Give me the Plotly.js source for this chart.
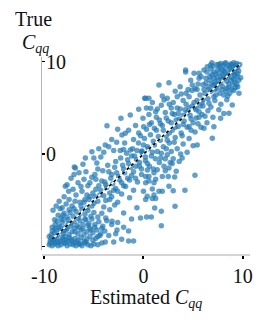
<!DOCTYPE html>
<html>
<head>
<meta charset="utf-8">
<script src="https://cdn.plot.ly/plotly-3.0.1.min.js"></script>
<style>html,body{margin:0;padding:0;background:#fff;}#chart{width:267px;height:323px;}</style>
</head>
<body>
<div id="chart"></div>
<script>
// Estimated C_qq (x) and True C_qq (y)
const estimated = [
-9.5,-9.2,-8.9,-8.6,-8.3,-8.0,-7.7,-7.4,-7.1,-6.8,
-6.5,-6.2,-5.9,-5.6,-5.3,-5.0,-4.6,-4.2,-3.85,-3.0,
-2.2,-1.5,-1.0,-9.4,-9.1,-8.8,-8.4,-8.1,-7.8,-7.5,
-7.2,-6.9,-6.6,-6.3,-6.0,-5.7,-5.4,-5.1,-4.8,-4.4,
-9.3,-9.0,-8.7,-8.4,-8.1,-7.8,-7.5,-7.2,-6.9,-6.6,
-6.3,-6.0,-5.7,-5.4,-5.1,-4.7,-4.3,-3.9,-3.5,-2.8,
-9.2,-8.9,-8.7,-8.96,-8.5,-8.2,-7.9,-7.6,-7.3,-7.0,
-6.7,-6.4,-6.1,-5.8,-5.5,-5.2,-4.9,-4.5,-4.1,-3.7,
-3.2,-2.6,-2.0,-9.12,-8.6,-8.3,-8.0,-7.7,-7.4,-7.1,
-6.8,-6.5,-6.2,-5.9,-5.6,-5.3,-5.0,-4.6,-4.2,-3.8,
-3.17,-2.67,-1.5,-2.0,-0.66,-3.4,-2.9,-1.2,-0.3,0.32,
0.79,1.8,1.8,1.13,3.18,0.22,0.38,1.06,1.23,0.89,
-8.8,-8.5,-8.2,-7.88,-7.7,-7.54,-8.0,-7.8,-7.5,-7.2,
-7.0,-6.87,-6.5,-6.97,-7.1,-6.8,-6.6,-6.4,-6.2,-6.0,
-5.86,-5.0,-4.7,-5.8,-5.6,-5.4,-5.2,-5.0,-4.8,-4.6,
-4.4,-4.2,-4.0,-3.8,-3.6,-3.4,-3.2,-3.0,-2.8,-2.6,
-2.4,-2.2,-2.0,-1.8,-1.6,-1.4,-1.2,-1.0,-0.8,-0.6,
-0.4,-0.2,0.0,0.2,0.4,0.55,0.22,1.23,1.06,0.55,
1.39,1.06,2.57,2.07,3.3,3.14,2.5,1.9,3.9,3.75,
3.0,2.9,2.4,2.2,1.73,2.7,0.89,1.9,1.56,2.57,
3.0,4.18,5.19,0.22,-6.3,-5.9,-7.3,-6.1,-4.9,-4.3,
-6.0,-5.7,-5.5,-5.2,-4.9,-4.6,-4.3,-4.0,-3.7,-3.4,
-3.1,-2.8,-2.5,-2.2,-1.9,-1.6,-1.3,-1.0,-0.7,-0.4,
-0.1,0.2,0.5,0.8,1.1,1.4,1.7,2.0,2.3,2.6,
2.9,3.2,3.5,3.8,4.1,4.4,4.7,5.0,5.3,5.6,
-5.4,-4.8,-4.1,-3.5,-2.9,-2.3,-1.7,-1.1,-0.5,0.1,
0.7,1.3,1.9,2.5,3.1,3.7,4.3,0.4,1.0,1.6,
2.2,2.8,3.4,4.0,4.6,5.2,5.8,4.4,3.6,5.0,
-3.8,-3.2,-2.6,-2.0,-1.4,-0.8,-0.2,0.6,1.2,1.8,
0.12,-0.48,-1.33,-2.27,-3.68,-2.17,-1.83,-0.48,-0.05,0.02,
-3.85,-3.5,-5.2,-3.0,-2.34,-2.0,-1.33,-0.66,-0.15,-2.7,
-1.0,-0.3,0.3,0.8,1.3,0.22,0.55,0.73,1.23,0.55,
1.56,2.57,2.4,2.07,3.4,4.25,4.25,1.8,2.8,1.6,
2.2,3.0,3.8,4.5,4.76,4.92,5.6,5.6,5.1,6.1,
6.43,6.77,7.78,8.29,8.8,9.3,3.5,4.0,4.6,5.2,
6.0,6.3,6.6,6.9,7.2,7.5,7.8,8.1,8.4,8.7,
9.0,9.3,9.6,9.8,9.63,6.2,6.5,6.8,7.1,7.4,
7.7,8.0,8.3,8.6,8.9,9.2,9.5,5.7,5.9,6.1,
7.0,7.3,7.6,7.9,8.2,8.5,8.8,9.1,9.4,9.7,
5.5,5.8,6.4,6.7,7.0,7.3,7.6,7.9,8.2,8.5,
8.8,9.1,9.4,6.0,6.6,7.2,7.8,8.4,8.95,8.62,
7.78,7.1,6.94,5.42,6.1,5.9,6.5,7.0,7.6,8.1,
9.5,9.2,8.9,8.6,8.3,8.0,7.7,7.4,7.1,6.8,
9.6,9.3,9.0,8.7,8.4,8.1,7.8,7.5,7.2,6.9,
2.0,2.4,2.8,3.2,3.6,4.0,4.4,4.8,5.2,5.6,
6.0,5.4,4.9,4.2,3.3,2.6,1.5,1.0,0.4,-0.2,
4.8,5.5,6.2,6.8,3.9,4.6,5.3,6.4,2.3,3.1,
-0.9,-1.5,-2.1,-2.7,-3.3,-3.9,-4.5,-5.1,-5.7,-6.3,
-6.9,-7.5,-8.1,-8.8,-9.3,-9.5,-9.0,-8.5,-7.9,-7.3,
0.3,0.9,1.4,1.9,2.6,3.2,3.7,4.3,4.9,5.4,
0.6,1.1,1.7,2.3,2.9,3.4,4.0,4.6,5.1,5.7,
-0.8,-1.5,-2.6,-3.2,-4.0,-4.5,-1.9,-1.2,0.0,0.9,
-9.4,-9.0,-8.7,-8.2,-7.9,-7.6,-7.0,-6.7,-6.4,-5.8,
-9.2,-8.9,-8.4,-8.0,-7.7,-7.3,-6.9,-6.5,-6.1,-5.6,
-5.3,-4.9,-4.6,-4.2,-5.9,-6.6,-7.6,-8.1,-8.4,-7.0,
8.0,8.6,9.0,9.4,7.4,6.9,7.6,8.2,8.9,9.5,
6.3,6.7,7.1,7.9,8.4,9.1,6.5,7.3,8.6,9.2
];
const trueVals = [
-9.8,-9.9,-9.7,-9.9,-9.8,-9.6,-9.9,-9.7,-9.8,-9.9,
-9.7,-9.9,-9.6,-9.8,-9.9,-9.7,-9.8,-9.6,-9.5,-9.5,
-9.2,-9.4,-9.4,-9.4,-9.3,-9.1,-9.4,-9.2,-9.3,-9.0,
-9.4,-9.1,-9.3,-9.0,-9.4,-9.2,-8.9,-9.3,-9.1,-8.8,
-8.7,-8.5,-8.8,-8.3,-8.6,-8.2,-8.7,-8.4,-8.0,-8.6,
-8.2,-8.7,-8.4,-8.0,-8.5,-8.2,-8.6,-8.3,-8.8,-8.6,
-7.9,-7.6,-7.25,-7.08,-7.8,-7.4,-7.9,-7.5,-7.8,-7.3,
-7.7,-7.2,-7.6,-7.1,-7.5,-7.0,-7.6,-7.3,-7.8,-7.2,
-7.6,-7.4,-7.9,-6.07,-6.6,-6.9,-6.4,-6.8,-6.3,-6.7,
-6.2,-6.6,-6.0,-6.5,-6.1,-6.7,-6.3,-6.8,-6.4,-6.9,
-7.25,-8.2,-8.3,-6.35,-5.8,-6.0,-5.5,-7.0,-6.9,-6.8,
-6.8,-7.73,-6.17,-5.82,-5.63,-4.9,-4.55,-4.4,-4.8,-4.8,
-5.6,-5.1,-5.8,-3.47,-3.3,-4.0,-4.6,-5.4,-4.9,-5.6,
-2.2,-1.49,-2.0,-1.38,-3.8,-4.4,-3.1,-5.2,-4.0,-2.7,
-0.4,-0.4,-0.95,-1.9,-3.4,-4.6,-2.5,-5.3,-3.8,-1.6,
-4.4,-2.9,-5.7,-3.3,-1.2,-4.9,-2.2,-3.9,-0.8,-5.2,
-2.8,-4.3,-1.6,-3.5,-0.6,-4.7,-2.3,-3.9,-1.3,-3.0,
-0.9,-2.2,-4.0,-0.3,-1.7,-2.4,-2.4,-2.7,-3.1,-2.9,
-1.67,-2.0,-1.49,-1.31,-1.85,-2.46,-2.4,-2.4,-0.4,0.02,
-0.5,-1.0,-0.05,-0.5,-0.4,-0.9,-3.76,-4.0,-4.0,-3.47,
-3.95,-3.9,-2.28,-3.1,-3.5,-4.9,-2.6,-1.1,-2.2,-0.3,
-5.2,-5.8,-4.9,-5.6,-4.6,-5.1,-3.9,-4.5,-3.6,-4.2,
-3.2,-3.7,-2.4,-3.1,-2.0,-2.6,-1.4,-1.9,-0.6,-1.3,
0.1,-0.7,0.6,-0.2,1.0,0.3,1.5,0.8,2.0,1.2,
2.6,1.8,3.0,2.3,3.6,2.9,4.2,3.4,4.8,4.0,
-3.1,-2.7,-1.8,-1.9,-1.4,-0.4,0.1,0.6,1.2,1.7,
2.1,2.6,3.1,3.6,4.3,4.9,5.4,-1.0,-1.6,-0.9,
-1.8,0.3,0.6,1.1,1.7,2.4,2.9,0.2,-0.8,0.9,
-5.0,-4.6,-4.0,-3.4,-2.8,-2.6,-1.6,-1.3,-0.5,0.1,
6.04,4.85,4.24,3.88,3.08,2.08,2.26,2.3,3.88,2.97,
1.0,0.8,0.27,0.4,0.4,0.5,0.45,0.4,0.35,1.3,
1.6,2.0,2.7,3.4,4.0,6.04,6.04,4.96,4.6,4.3,
7.48,7.73,6.04,5.86,6.2,9.1,8.9,5.3,5.0,3.7,
4.5,5.6,6.5,7.0,8.0,7.48,8.2,8.75,8.75,9.1,
9.46,9.64,9.8,9.9,9.75,9.6,4.4,5.8,6.2,7.1,
7.5,8.2,7.0,8.6,7.8,9.2,8.4,9.0,7.9,9.4,
8.8,9.3,9.0,8.27,6.58,6.6,6.0,6.8,6.2,7.1,
6.6,7.3,6.8,7.6,7.0,7.8,7.3,6.4,5.6,7.0,
9.5,8.7,9.7,9.1,9.8,8.5,9.1,9.9,8.4,9.7,
7.6,8.4,8.9,8.0,7.4,6.4,8.0,7.0,8.2,6.3,
8.0,6.9,7.6,5.2,5.5,5.8,5.4,5.9,5.32,4.42,
3.88,2.97,1.72,0.99,2.8,4.3,4.7,4.0,4.8,4.4,
9.4,8.6,9.7,8.8,9.3,8.6,9.4,8.3,8.9,9.2,
8.0,7.2,7.5,6.6,7.1,6.4,7.7,7.5,7.0,7.6,
2.6,1.5,3.4,2.9,3.8,3.2,4.5,3.8,5.0,4.6,
5.9,5.8,5.2,4.8,3.7,2.3,1.9,1.4,0.8,0.3,
2.6,3.3,4.1,5.1,2.0,3.0,3.9,3.4,0.6,1.3,
-0.2,-1.0,-1.2,-2.0,-2.6,-3.0,-3.4,-4.2,-4.4,-5.6,
-5.1,-6.0,-7.1,-8.2,-9.1,-8.9,-9.6,-9.5,-8.9,-9.2,
5.0,5.6,4.9,6.3,5.4,6.8,7.3,6.6,6.9,7.0,
3.2,2.8,3.3,3.9,4.4,5.0,4.2,5.0,5.6,5.2,
3.1,2.6,2.7,1.6,0.2,0.6,1.2,-0.2,1.0,0.2,
-9.6,-9.2,-9.5,-9.0,-9.6,-9.4,-9.6,-9.5,-9.7,-9.5,
-8.3,-8.0,-7.9,-8.3,-8.0,-7.5,-8.4,-7.9,-8.1,-7.7,
-8.2,-7.9,-8.9,-8.0,-7.0,-6.9,-7.1,-6.6,-5.9,-5.9,
9.6,9.6,9.4,9.8,9.7,9.9,8.8,8.8,8.3,8.7,
7.7,8.4,8.2,8.1,8.4,8.1,7.3,7.6,7.2,8.9
];
// identity reference line endpoints
const lineX = [-9.2, 9.7];
const lineY = [-9.2, 9.7];
const xTickVals = [-10, 0, 10];
const xTickText = ['-10', '0', '10'];
const yTickVals = [-10, 0, 10];
const yTickText = ['', '0', '10'];

const serif = '"Liberation Serif", "Times New Roman", serif';

// plot area in container pixels: left 42, right 250, top 57, bottom 255
const PL = 42, PW = 208, PB = 255, PH = 198;
const px = v => (v - PL) / PW;
const py = v => (PB - v) / PH;

const traces = [
  {x: estimated, y: trueVals, type: 'scatter', mode: 'markers',
   marker: {color: 'rgba(31,119,180,0.7)', size: 5.5, line: {width: 0}},
   hoverinfo: 'skip'},
  {x: lineX, y: lineY, type: 'scatter', mode: 'lines',
   line: {color: '#ffffff', width: 1.6}, hoverinfo: 'skip'},
  {x: lineX, y: lineY, type: 'scatter', mode: 'lines',
   line: {color: '#000000', width: 1.6, dash: 'dot'}, hoverinfo: 'skip'}
];

const layout = {
  width: 267, height: 323,
  margin: {l: 42, r: 17, t: 57, b: 68, pad: 0},
  paper_bgcolor: '#ffffff', plot_bgcolor: '#ffffff',
  showlegend: false,
  font: {family: serif, size: 19, color: '#111'},
  xaxis: {
    range: [-10.23, 10.74], anchor: 'free', position: 0,
    showgrid: false, zeroline: false,
    showline: true, linecolor: '#d4d4d4', linewidth: 2,
    ticks: 'outside', ticklen: 3, tickwidth: 2, tickcolor: '#000',
    tickvals: xTickVals, ticktext: xTickText,
    ticklabeloverflow: 'allow',
    tickfont: {family: serif, size: 20, color: '#111'}
  },
  yaxis: {
    range: [-10.36, 10.51], domain: [0.0253, 1],
    showgrid: false, zeroline: false,
    showline: true, linecolor: '#b4b4b4', linewidth: 1,
    ticks: 'inside', ticklen: 3, tickwidth: 1.5, tickcolor: '#000',
    ticklabelposition: 'inside', ticklabeloverflow: 'allow',
    ticklabelstandoff: 2,
    tickvals: yTickVals, ticktext: yTickText,
    tickfont: {family: serif, size: 20, color: '#111'}
  },
  annotations: [
    {text: 'Estimated <i>C</i><sub><i>qq</i></sub>', xref: 'paper', yref: 'paper',
     x: px(146), y: py(298), xanchor: 'center', yanchor: 'middle',
     showarrow: false, font: {family: serif, size: 20, color: '#111'}},
    {text: 'True', xref: 'paper', yref: 'paper',
     x: px(33), y: py(19), xanchor: 'center', yanchor: 'middle',
     showarrow: false, font: {family: serif, size: 20, color: '#111'}},
    {text: '<i>C</i><sub><i>qq</i></sub>', xref: 'paper', yref: 'paper',
     x: px(35), y: py(44), xanchor: 'center', yanchor: 'middle',
     showarrow: false, font: {family: serif, size: 20, color: '#111'}}
  ]
};
Plotly.newPlot('chart', traces, layout, {displayModeBar: false, staticPlot: true});
</script>
</body>
</html>
